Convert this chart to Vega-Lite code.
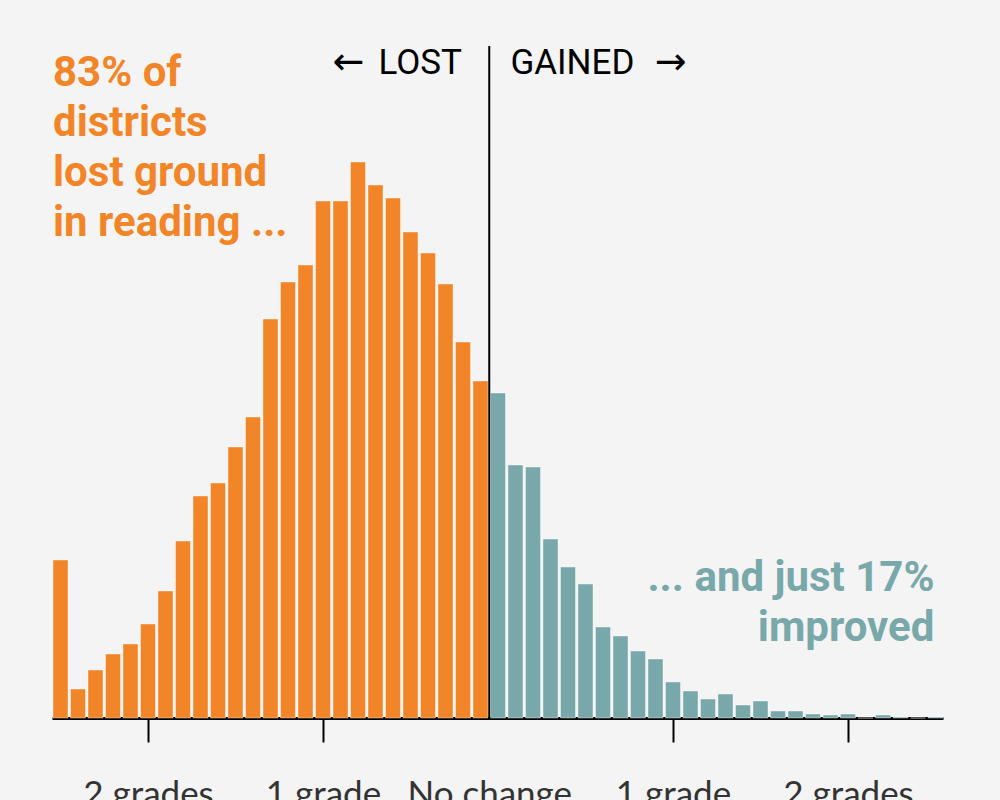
{
  "$schema": "https://vega.github.io/schema/vega-lite/v6.json",
  "width": 891,
  "height": 672,
  "autosize": "none",
  "padding": {"left": 52, "top": 46, "right": 57, "bottom": 82},
  "background": "#f4f4f4",
  "config": {"view": {"stroke": null}},
  "datasets": {
    "bins": [
      {"change": -2.5, "districts": 158, "side": "lost"},
      {"change": -2.4, "districts": 29, "side": "lost"},
      {"change": -2.3, "districts": 48, "side": "lost"},
      {"change": -2.2, "districts": 64, "side": "lost"},
      {"change": -2.1, "districts": 74, "side": "lost"},
      {"change": -2.0, "districts": 94, "side": "lost"},
      {"change": -1.9, "districts": 127, "side": "lost"},
      {"change": -1.8, "districts": 177, "side": "lost"},
      {"change": -1.7, "districts": 222, "side": "lost"},
      {"change": -1.6, "districts": 235, "side": "lost"},
      {"change": -1.5, "districts": 271, "side": "lost"},
      {"change": -1.4, "districts": 301, "side": "lost"},
      {"change": -1.3, "districts": 399, "side": "lost"},
      {"change": -1.2, "districts": 436, "side": "lost"},
      {"change": -1.1, "districts": 453, "side": "lost"},
      {"change": -1.0, "districts": 517, "side": "lost"},
      {"change": -0.9, "districts": 517, "side": "lost"},
      {"change": -0.8, "districts": 556, "side": "lost"},
      {"change": -0.7, "districts": 533, "side": "lost"},
      {"change": -0.6, "districts": 520, "side": "lost"},
      {"change": -0.5, "districts": 486, "side": "lost"},
      {"change": -0.4, "districts": 465, "side": "lost"},
      {"change": -0.3, "districts": 434, "side": "lost"},
      {"change": -0.2, "districts": 376, "side": "lost"},
      {"change": -0.1, "districts": 337, "side": "lost"},
      {"change": 0.0, "districts": 325, "side": "gained"},
      {"change": 0.1, "districts": 253, "side": "gained"},
      {"change": 0.2, "districts": 251, "side": "gained"},
      {"change": 0.3, "districts": 179, "side": "gained"},
      {"change": 0.4, "districts": 151, "side": "gained"},
      {"change": 0.5, "districts": 134, "side": "gained"},
      {"change": 0.6, "districts": 91, "side": "gained"},
      {"change": 0.7, "districts": 82, "side": "gained"},
      {"change": 0.8, "districts": 67, "side": "gained"},
      {"change": 0.9, "districts": 59, "side": "gained"},
      {"change": 1.0, "districts": 36, "side": "gained"},
      {"change": 1.1, "districts": 27, "side": "gained"},
      {"change": 1.2, "districts": 19, "side": "gained"},
      {"change": 1.3, "districts": 24, "side": "gained"},
      {"change": 1.4, "districts": 13, "side": "gained"},
      {"change": 1.5, "districts": 17, "side": "gained"},
      {"change": 1.6, "districts": 7, "side": "gained"},
      {"change": 1.7, "districts": 7, "side": "gained"},
      {"change": 1.8, "districts": 4, "side": "gained"},
      {"change": 1.9, "districts": 3, "side": "gained"},
      {"change": 2.0, "districts": 4, "side": "gained"},
      {"change": 2.1, "districts": 0, "side": "gained"},
      {"change": 2.2, "districts": 3, "side": "gained"},
      {"change": 2.3, "districts": 1, "side": "gained"},
      {"change": 2.4, "districts": 0, "side": "gained"},
      {"change": 2.5, "districts": 1, "side": "gained"}
    ]
  },
  "layer": [
    {
      "data": {"name": "bins"},
      "mark": {"type": "bar", "width": 15, "stroke": "#ffffff", "strokeOpacity": 0.4, "strokeWidth": 1},
      "encoding": {
        "x": {
          "field": "change",
          "type": "quantitative",
          "scale": {"domain": [-2.5486, 2.5429], "nice": false, "zero": false, "padding": 0},
          "axis": {
            "title": null,
            "values": [-2, -1, -0.05, 1, 2],
            "labelExpr": "abs(datum.value) == 2 ? '2 grades' : (abs(datum.value) == 1 ? '1 grade' : 'No change')",
            "domainColor": "#000000",
            "domainWidth": 3,
            "tickColor": "#000000",
            "tickWidth": 2,
            "tickSize": 24,
            "tickOpacity": {"condition": {"test": "datum.value == -0.05", "value": 0}, "value": 1},
            "grid": false,
            "labelFont": "Lato",
            "labelFontSize": 35,
            "labelColor": "#333333",
            "labelBaseline": "alphabetic",
            "labelPadding": 63,
            "labelFlush": false,
            "labelOverlap": false,
            "labelBound": false
          }
        },
        "y": {
          "field": "districts",
          "type": "quantitative",
          "scale": {"domain": [0, 672], "nice": false},
          "axis": null
        },
        "color": {
          "field": "side",
          "type": "nominal",
          "scale": {"domain": ["lost", "gained"], "range": ["#f28527", "#78a8aa"]},
          "legend": null
        }
      }
    },
    {
      "data": {"values": [{"boundary": "no change"}]},
      "mark": {"type": "rule", "color": "#000000", "strokeWidth": 2},
      "encoding": {
        "x": {"datum": -0.05, "type": "quantitative"}
      }
    },
    {
      "data": {"values": [{"note": ["83% of", "districts", "lost ground", "in reading ..."]}]},
      "mark": {"type": "text", "align": "left", "baseline": "alphabetic", "font": "Roboto", "fontWeight": "bold", "fontSize": 42, "lineHeight": 50, "color": "#f28527"},
      "encoding": {
        "x": {"datum": -2.543, "type": "quantitative"},
        "y": {"datum": 632, "type": "quantitative"},
        "text": {"field": "note"}
      }
    },
    {
      "data": {"values": [{"note": ["... and just 17%", "improved"]}]},
      "mark": {"type": "text", "align": "right", "baseline": "alphabetic", "font": "Roboto", "fontWeight": "bold", "fontSize": 42, "lineHeight": 50, "color": "#78a8aa"},
      "encoding": {
        "x": {"datum": 2.494, "type": "quantitative"},
        "y": {"datum": 127, "type": "quantitative"},
        "text": {"field": "note"}
      }
    },
    {
      "data": {"values": [{"note": "LOST"}]},
      "mark": {"type": "text", "align": "right", "baseline": "alphabetic", "font": "Roboto", "fontSize": 35, "color": "#000000"},
      "encoding": {
        "x": {"datum": -0.206, "type": "quantitative"},
        "y": {"datum": 644, "type": "quantitative"},
        "text": {"field": "note"}
      }
    },
    {
      "data": {"values": [{"note": "GAINED"}]},
      "mark": {"type": "text", "align": "left", "baseline": "alphabetic", "font": "Roboto", "fontSize": 35, "color": "#000000"},
      "encoding": {
        "x": {"datum": 0.071, "type": "quantitative"},
        "y": {"datum": 644, "type": "quantitative"},
        "text": {"field": "note"}
      }
    },
    {
      "data": {"values": [{"arrow": "←"}]},
      "mark": {"type": "text", "align": "left", "baseline": "alphabetic", "font": "DejaVu Sans", "fontSize": 38, "color": "#000000"},
      "encoding": {
        "x": {"datum": -0.946, "type": "quantitative"},
        "y": {"datum": 644, "type": "quantitative"},
        "text": {"field": "arrow"}
      }
    },
    {
      "data": {"values": [{"arrow": "→"}]},
      "mark": {"type": "text", "align": "right", "baseline": "alphabetic", "font": "DejaVu Sans", "fontSize": 38, "color": "#000000"},
      "encoding": {
        "x": {"datum": 1.077, "type": "quantitative"},
        "y": {"datum": 644, "type": "quantitative"},
        "text": {"field": "arrow"}
      }
    }
  ]
}
